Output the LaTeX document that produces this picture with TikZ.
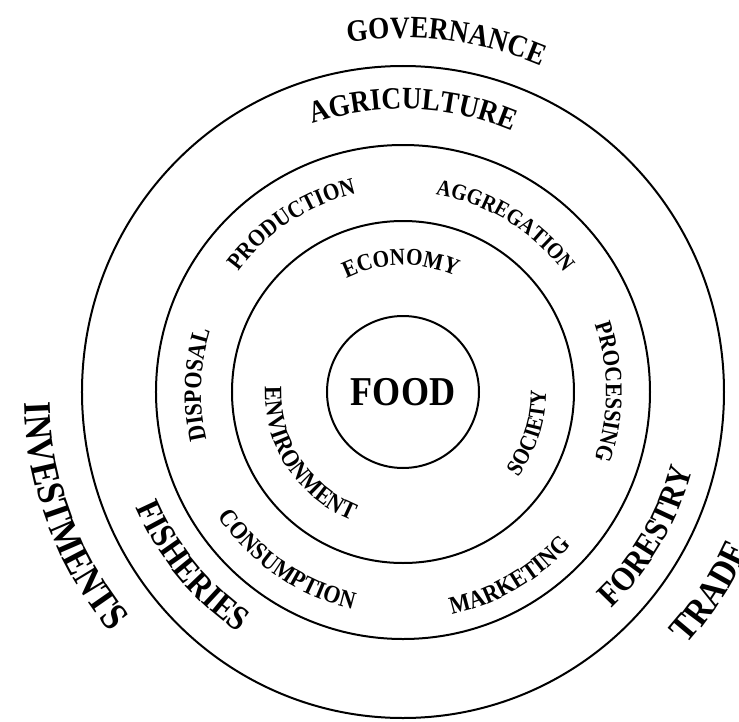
\documentclass[tikz,border=0pt]{standalone}
\usepackage{fontspec}
\setmainfont{Liberation Serif}
\newfontfamily\ringfont{Liberation Serif}[FakeStretch=0.88]
\usetikzlibrary{decorations.text}

\tikzstyle{ring} = [draw, line width=2pt]
\tikzstyle{hub} = [ring, circle, minimum size=152pt, inner sep=0pt, font=\ringfont\fontsize{41}{41}\selectfont\bfseries]

% text laid along a ring, read clockwise (letters stand outward)
\newcommand{\cwlabel}[4]{%
  \path [decorate, decoration={text along path, text align=center,
      text={|\ringfont\fontsize{#3}{#3}\selectfont\bfseries|#4}}]
    ({#1+70}:#2pt) arc [start angle={#1+70}, end angle={#1-70}, radius=#2pt];}
% read counterclockwise (letters stand inward)
\newcommand{\ccwlabel}[4]{%
  \path [decorate, decoration={text along path, text align=center,
      text={|\ringfont\fontsize{#3}{#3}\selectfont\bfseries|#4}}]
    ({#1-70}:#2pt) arc [start angle={#1-70}, end angle={#1+70}, radius=#2pt];}

\begin{document}
\begin{tikzpicture}
    \useasboundingbox (-403pt,-329pt) rectangle (336pt,392pt);
    % the rings, from the centre outward
    \node [hub] (food) at (0,0) {FOOD};
    \draw [ring] (food.center) circle [radius=171pt];
    \draw [ring] (food.center) circle [radius=247pt];
    \draw [ring] (food.center) ellipse [x radius=321pt, y radius=326pt];

    % inner ring
    \cwlabel{91}{127}{24}{ECONOMY}
    \ccwlabel{-18}{143}{23.3}{SOCIETY}
    \ccwlabel{213}{138}{25}{ENVIRONMENT}

    % middle ring
    \cwlabel{123.5}{204}{24}{PRODUCTION}
    \cwlabel{58.5}{200}{22.7}{AGGREGATION}
    \cwlabel{0}{203}{24}{PROCESSING}
    \ccwlabel{-60}{228}{25}{MARKETING}
    \ccwlabel{235.5}{223}{25}{CONSUMPTION}
    \cwlabel{178}{202}{25}{DISPOSAL}

    % outer ring
    \cwlabel{88}{283}{31}{AGRICULTURE}
    \ccwlabel{-30.5}{300}{34}{FORESTRY}
    \ccwlabel{219.5}{291}{35}{FISHERIES}

    % outside
    \cwlabel{83}{354}{31}{GOVERNANCE}
    \ccwlabel{-33}{380}{37.5}{TRADE}
    \ccwlabel{200.5}{379}{39}{INVESTMENTS}
\end{tikzpicture}
\end{document}
